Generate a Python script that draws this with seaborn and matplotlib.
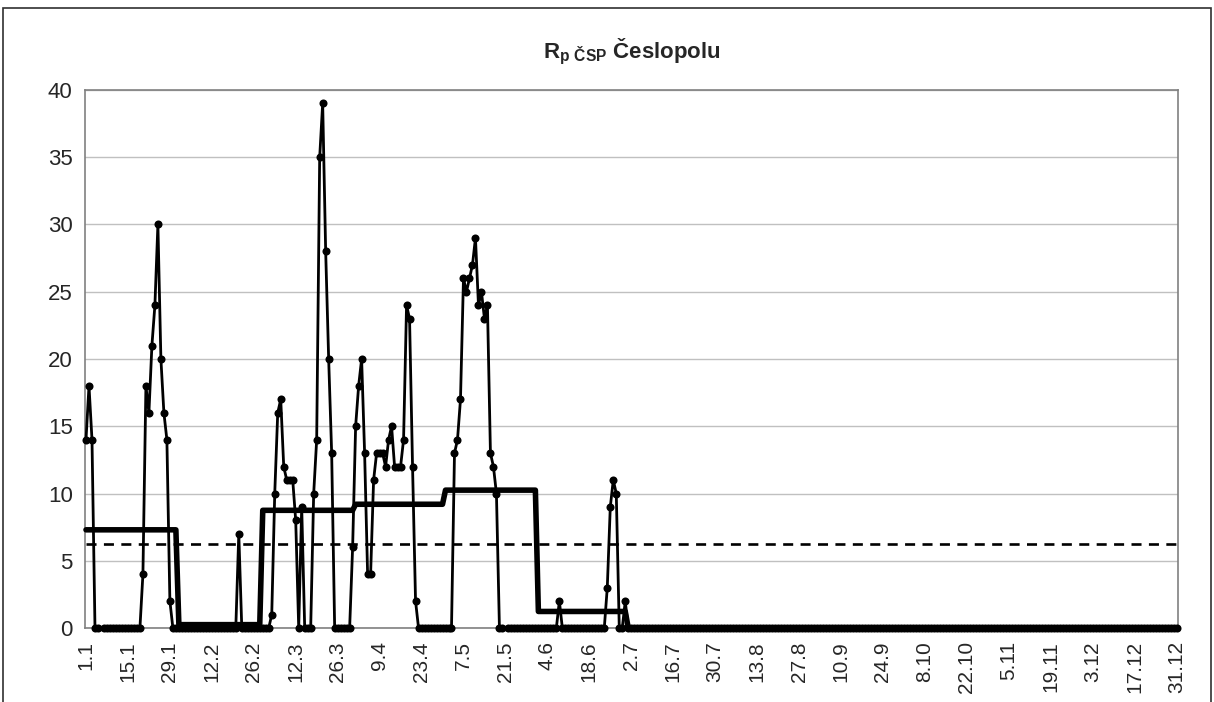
import numpy as np
import pandas as pd
import matplotlib
matplotlib.use("Agg")
import matplotlib.pyplot as plt
import seaborn as sns
from matplotlib.patches import Rectangle

nan = np.nan

# daily values (NaN = missing day, gap in the line)
jan = [14, 18, 14, 0, 0, nan] + [0] * 13 + [4, 18, 16, 21, 24, 30, 20, 16, 14, 2, 0, 0]
feb = [0] * 20 + [7] + [0] * 7
mar = [0, 0, 0, 1, 10, 16, 17, 12, 11, 11, 11, 8, 0, 9, 0, 0, 0, 10, 14, 35, 39, 28, 20, 13] + [0] * 6 + [6]
apr = [15, 18, 20, 13, 4, 4, 11, 13, 13, 13, 12, 14, 15, 12, 12, 12, 14, 24, 23, 12, 2] + [0] * 9
may = [0, 0, 0, 13, 14, 17, 26, 25, 26, 27, 29, 24, 25, 23, 24, 13, 12, 10, 0, 0, nan] + [0] * 10
jun = [0] * 7 + [2] + [0] * 15 + [3, 9, 11, 10, 0, 0, 2]
jul = [0] * 31
aug = [0] * 31
sep = [0] * 30
okt = [0] * 31
nov = [0] * 30
dec = [0] * 31

month_days = [31, 28, 31, 30, 31, 30, 31, 31, 30, 31, 30, 31]
monthly_mean = [7.3, 0.25, 8.75, 9.2, 10.25, 1.23, 0, 0, 0, 0, 0, 0]
limit = 6.25

tick_labels = ["1.1", "15.1", "29.1", "12.2", "26.2", "12.3", "26.3", "9.4", "23.4",
               "7.5", "21.5", "4.6", "18.6", "2.7", "16.7", "30.7", "13.8", "27.8",
               "10.9", "24.9", "8.10", "22.10", "5.11", "19.11", "3.12", "17.12", "31.12"]

daily = np.array(jan + feb + mar + apr + may + jun + jul + aug + sep + okt + nov + dec, dtype=float)
x = np.arange(len(daily)) + 0.5

sns.set_style("white")
plt.rcParams['font.family'] = ['Liberation Sans', 'DejaVu Sans']
plt.rcParams['mathtext.fontset'] = 'custom'
plt.rcParams['mathtext.rm'] = 'Liberation Sans'
plt.rcParams['mathtext.bf'] = 'Liberation Sans:bold'

W, H = 1214, 702
fig = plt.figure(figsize=(W / 100, H / 100), dpi=100)
ax = fig.add_axes([84.5 / W, 1 - 628 / H, (1178 - 84.5) / W, (628 - 90) / H])

# chart border
fig.patches.append(Rectangle((3 / W, -0.05), (1211 - 3) / W, 1.05 - 8 / H,
                             transform=fig.transFigure, fill=False,
                             edgecolor='#303030', lw=1.2))

# monthly mean (thick step line)
sns.lineplot(x=x, y=np.repeat(monthly_mean, month_days), color='black', lw=4.0,
             clip_on=False, zorder=3, ax=ax)

# daily values, split at missing days so the line keeps its gaps
df = pd.DataFrame({'x': x, 'y': daily, 'seg': np.cumsum(np.isnan(daily))})
sns.lineplot(data=df, x='x', y='y', units='seg', estimator=None, color='black',
             lw=2.0, marker='o', markersize=5.8, markeredgecolor='black',
             markeredgewidth=0, clip_on=False, zorder=4, ax=ax)

ax.hlines(limit, 0.5, len(daily) - 0.5, colors='black', lw=1.9, linestyles=(0, (3.8, 2.8)),
          zorder=5)

ax.set_xlim(0, len(daily))
ax.set_ylim(0, 40)
ax.set_yticks(np.arange(0, 41, 5))
ax.set_xticks(np.arange(0, len(daily), 14) + 0.5)
ax.set_xticklabels(tick_labels, rotation=90)
ax.yaxis.grid(True, color='#c0c0c0', lw=1)
ax.set_axisbelow(True)
ax.tick_params(axis='both', which='major', labelsize=16, length=4.5, width=1,
               color='#808080', direction='out', pad=4)
ax.tick_params(axis='x', labelsize=15, pad=5)
for side in ['left', 'bottom', 'top', 'right']:
    ax.spines[side].set_color('#808080')
    ax.spines[side].set_linewidth(1.2)
ax.set_xlabel('')
ax.set_ylabel('')

fig.text(632 / W, 1 - 52 / H, r'$\mathbf{R_{p\ ČSP}}$ Česlopolu', ha='center', va='center',
         fontsize=16, fontweight='bold')

fig.savefig('out.png', dpi=100)
